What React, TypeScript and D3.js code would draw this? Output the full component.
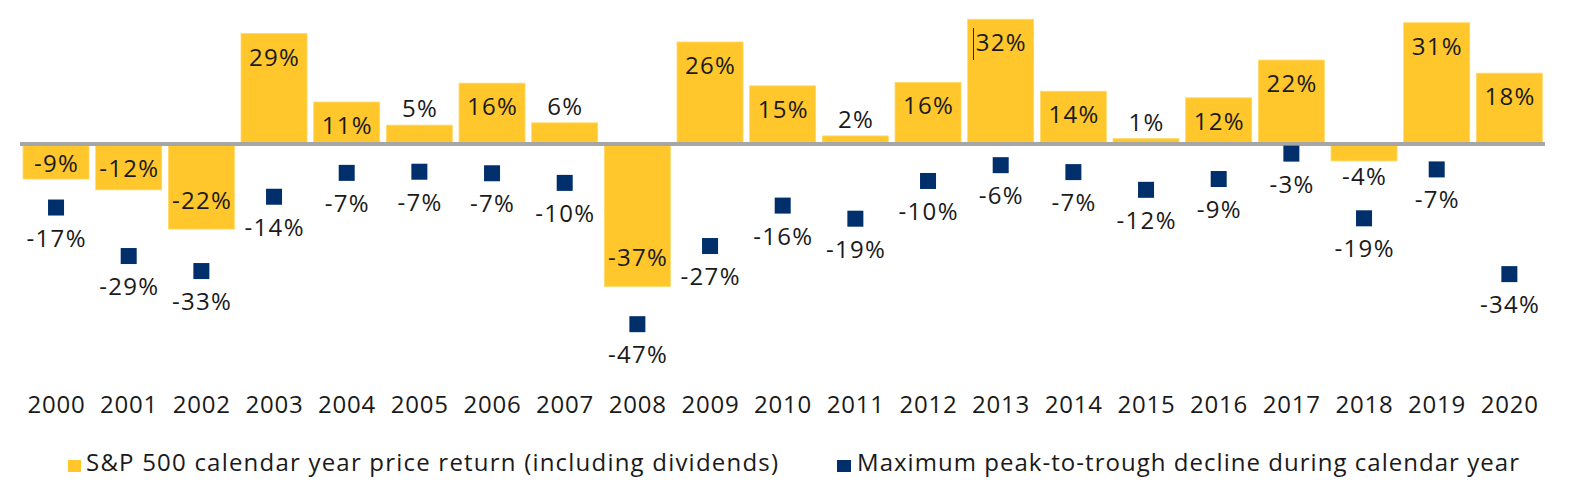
import React from "react";
import * as d3 from "d3";

const years = ["2000","2001","2002","2003","2004","2005","2006","2007","2008","2009","2010","2011","2012","2013","2014","2015","2016","2017","2018","2019","2020"];
const annualReturn = [-9.1,-11.9,-22.1,28.7,10.9,4.9,15.8,5.5,-37.0,26.5,15.1,2.1,16.0,32.4,13.7,1.4,12.0,21.8,-4.4,31.5,18.4];
const annualLabels = ["-9%","-12%","-22%","29%","11%","5%","16%","6%","-37%","26%","15%","2%","16%","32%","14%","1%","12%","22%","-4%","31%","18%"];
const maxDecline = [-16.5,-29.1,-33.0,-13.7,-7.5,-7.2,-7.6,-10.1,-46.8,-26.5,-16.0,-19.4,-9.6,-5.5,-7.3,-11.9,-9.1,-2.5,-19.3,-6.6,-33.8];
const declineLabels = ["-17%","-29%","-33%","-14%","-7%","-7%","-7%","-10%","-47%","-27%","-16%","-19%","-10%","-6%","-7%","-12%","-9%","-3%","-19%","-7%","-34%"];
const legendItems = ["S&P 500 calendar year price return (including dividends)", "Maximum peak-to-trough decline during calendar year"];

const YELLOW = "#FFC72C";
const NAVY = "#002F6C";
const GRAY = "#A6A6A6";
const TEXT = "#1A1A1A";
const FONT = "'Open Sans', 'Noto Sans', sans-serif";

export default function App() {
  const W = 1592, H = 491;
  const x = d3.scaleBand<string>().domain(years).range([19.7, 1545.7]).paddingInner(0.0918).paddingOuter(0.0459);
  const zeroY = 144;
  const ppp = 3.85;
  const y = d3.scaleLinear().domain([-50, 35]).range([zeroY + 50 * ppp, zeroY - 35 * ppp]);
  const bw = x.bandwidth();
  const ms = 16;
  const ls = 1.3;

  const label = (key: string, cx: number, by: number, s: string) => (
    <text key={key} x={cx + ls / 2} y={by} textAnchor="middle" fontSize={24} letterSpacing={ls} fill={TEXT}>{s}</text>
  );

  return (
    <svg width={W} height={H} style={{ position: "absolute", left: 0, top: 0, background: "#fff" }} fontFamily={FONT}>
      {years.map((yr, i) => {
        const v = annualReturn[i];
        const x0 = x(yr)!;
        const top = Math.min(y(v), y(0));
        const h = Math.abs(y(v) - y(0));
        return <rect key={"b" + yr} x={x0} y={top} width={bw} height={h} fill={YELLOW} stroke="#FFD966" strokeWidth={0.8} />;
      })}
      <line x1={20} x2={1545} y1={y(0)} y2={y(0)} stroke={GRAY} strokeWidth={4} />
      {years.map((yr, i) => {
        const v = annualReturn[i];
        const cx = x(yr)! + bw / 2;
        const h = Math.abs(y(v) - y(0));
        let by: number;
        if (v >= 0) {
          by = h < 30 ? y(v) - 8 : y(v) + 32;
        } else {
          const bottom = y(v);
          if (h < 25) by = bottom + 24;
          else if (h < 60) by = (y(0) + 2 + bottom) / 2 + 9;
          else by = bottom - 20;
        }
        return label("bl" + yr, cx, by, annualLabels[i]);
      })}
      {years.map((yr, i) => {
        const cx = x(yr)! + bw / 2;
        const cy = y(maxDecline[i]);
        return (
          <g key={"m" + yr}>
            <rect x={cx - ms / 2} y={cy - ms / 2} width={ms} height={ms} fill={NAVY} />
            {label("ml" + yr, cx, cy + 39, declineLabels[i])}
          </g>
        );
      })}
      <line x1={973.5} x2={973.5} y1={28} y2={60} stroke={NAVY} strokeWidth={1} />
      {years.map((yr) => (
        <text key={"t" + yr} x={x(yr)! + bw / 2 + 0.4} y={413} textAnchor="middle" fontSize={24} letterSpacing={0.8} fill={TEXT}>{yr}</text>
      ))}
      <rect x={68} y={460} width={13} height={12} fill={YELLOW} />
      <text x={86} y={471} fontSize={24} fill={TEXT} textLength={692} lengthAdjust="spacing">{legendItems[0]}</text>
      <rect x={837} y={460} width={14} height={12} fill={NAVY} />
      <text x={857} y={471} fontSize={24} fill={TEXT} textLength={662} lengthAdjust="spacing">{legendItems[1]}</text>
    </svg>
  );
}
